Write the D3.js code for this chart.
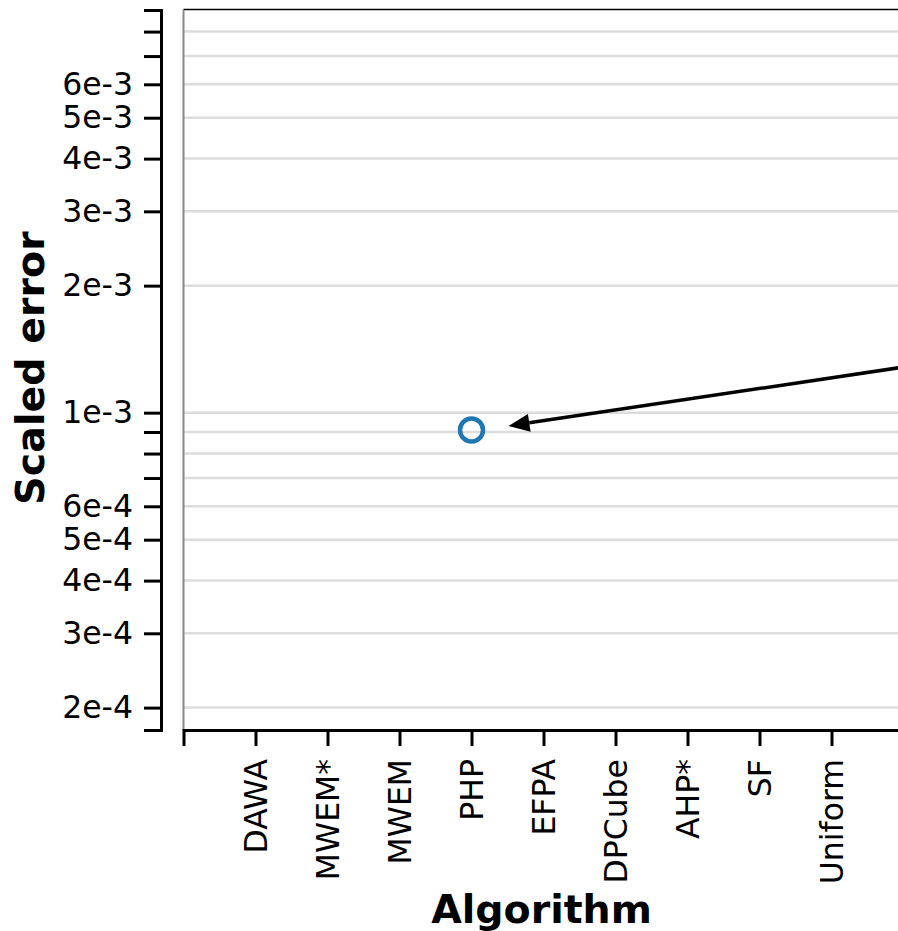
<!DOCTYPE html>
<html>
<head>
<meta charset="utf-8">
<script src="https://cdn.jsdelivr.net/npm/d3@7"></script>
<style>
  body { margin: 0; background: #fff; }
  svg { display: block; font-family: "DejaVu Sans", sans-serif; }
</style>
</head>
<body>
<script>
const width = 898, height = 931;

// categories on the x axis (chart is cropped on the right)
const algorithms = ["DAWA", "MWEM*", "MWEM", "PHP", "EFPA", "DPCube", "AHP*", "SF", "Uniform"];

// the single plotted point
const pointAlgorithms = ["PHP"];
const pointErrors = [9.1e-4];

// log axis ticks, only some of them get a label
const yTicks = [2e-4, 3e-4, 4e-4, 5e-4, 6e-4, 7e-4, 8e-4, 9e-4,
                1e-3, 2e-3, 3e-3, 4e-3, 5e-3, 6e-3, 7e-3, 8e-3, 9e-3];
const yLabelled = [2e-4, 3e-4, 4e-4, 5e-4, 6e-4, 1e-3, 2e-3, 3e-3, 4e-3, 5e-3, 6e-3];
const yDomain = [1.77e-4, 9e-3];

const plotLeft = 183.5, plotTop = 10, plotBottom = 730;
const yAxisX = 161;

const svg = d3.select("body")
    .append("svg")
    .attr("width", width)
    .attr("height", height);

const x = d3.scalePoint()
    .domain(algorithms)
    .range([plotLeft, plotLeft + 720])
    .padding(1);

const y = d3.scaleLog()
    .domain(yDomain)
    .range([plotBottom, plotTop]);

// grid lines
svg.append("g")
    .selectAll("line")
    .data(yTicks.filter(d => d < 9e-3))
    .enter()
    .append("line")
    .attr("x1", plotLeft)
    .attr("x2", width)
    .attr("y1", d => y(d))
    .attr("y2", d => y(d))
    .attr("stroke", "#dcdcdc")
    .attr("stroke-width", 2.5);

// frame: top black, left grey
svg.append("line")
    .attr("x1", plotLeft).attr("x2", width)
    .attr("y1", plotTop - 0.5).attr("y2", plotTop - 0.5)
    .attr("stroke", "#000").attr("stroke-width", 1.5);
svg.append("line")
    .attr("x1", plotLeft).attr("x2", plotLeft)
    .attr("y1", plotTop).attr("y2", plotBottom)
    .attr("stroke", "#888").attr("stroke-width", 2);

// y axis
const fmt = d => {
    const e = Math.floor(Math.log10(d) + 1e-9);
    const m = Math.round(d / Math.pow(10, e));
    return m + "e" + e;
};
const yAxis = svg.append("g")
    .attr("transform", `translate(${yAxisX},0)`)
    .call(d3.axisLeft(y)
        .tickValues(yTicks)
        .tickSize(17)
        .tickSizeOuter(17)
        .tickPadding(11)
        .tickFormat(d => yLabelled.some(v => Math.abs(v - d) / d < 1e-6) ? fmt(d) : ""));
yAxis.selectAll("path, line").attr("stroke", "#000").attr("stroke-width", 3);
yAxis.selectAll("text").attr("font-size", 31.5).attr("fill", "#000")
    .attr("font-family", "DejaVu Sans");

// x axis
const xAxis = svg.append("g")
    .attr("transform", `translate(0,${plotBottom})`)
    .call(d3.axisBottom(x).tickSize(16).tickSizeOuter(16));
xAxis.selectAll("path, line").attr("stroke", "#000").attr("stroke-width", 3);
xAxis.selectAll("text")
    .attr("font-size", 31.5)
    .attr("font-family", "DejaVu Sans")
    .attr("fill", "#000")
    .attr("text-anchor", "end")
    .attr("transform", "rotate(-90)")
    .attr("x", -29)
    .attr("y", 0)
    .attr("dy", "0.36em");

// axis titles
svg.append("text")
    .attr("transform", `translate(44,${(plotTop + plotBottom) / 2 - 2}) rotate(-90)`)
    .attr("text-anchor", "middle")
    .attr("font-size", 39.5)
    .attr("font-weight", "bold")
    .text("Scaled error");

svg.append("text")
    .attr("x", plotLeft + 358)
    .attr("y", 923)
    .attr("text-anchor", "middle")
    .attr("font-size", 39.5)
    .attr("font-weight", "bold")
    .text("Algorithm");

// point
svg.append("g")
    .selectAll("circle")
    .data(pointAlgorithms)
    .enter()
    .append("circle")
    .attr("cx", d => x(d))
    .attr("cy", (d, i) => y(pointErrors[i]))
    .attr("r", 11.5)
    .attr("fill", "none")
    .attr("stroke", "#1f77b4")
    .attr("stroke-width", 4.5);

// annotation arrow coming in from the right
const px = x(pointAlgorithms[0]), py = y(pointErrors[0]);
const tip = [px + 37, py - 4];
const dir = [389, -58];
const len = Math.hypot(dir[0], dir[1]);
const ux = dir[0] / len, uy = dir[1] / len;
const headLen = 21, headHalf = 9;
const base = [tip[0] + ux * headLen, tip[1] + uy * headLen];
svg.append("line")
    .attr("x1", base[0]).attr("y1", base[1])
    .attr("x2", tip[0] + ux * 500).attr("y2", tip[1] + uy * 500)
    .attr("stroke", "#000")
    .attr("stroke-width", 3.5);
svg.append("path")
    .attr("d", d3.line()([
        tip,
        [base[0] - uy * headHalf, base[1] + ux * headHalf],
        [base[0] + uy * headHalf, base[1] - ux * headHalf]
    ]) + "Z")
    .attr("fill", "#000");
</script>
</body>
</html>
